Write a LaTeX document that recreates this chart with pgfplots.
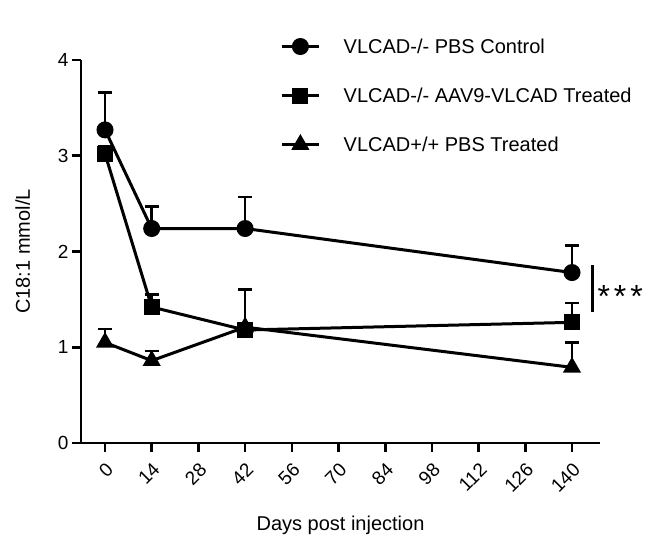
\documentclass[border=0pt]{standalone}
\usepackage{fontspec}
\setmainfont{Liberation Sans}
\usepackage{pgfplots}
\pgfplotsset{compat=1.18}

% err = upper SEM bar
\pgfplotstableread{
day  val   err
0    3.27  0.39
14   2.24  0.23
42   2.24  0.33
140  1.78  0.28
}\ctrl
\pgfplotstableread{
day  val   err
0    3.02  0.08
14   1.42  0.13
42   1.18  0.42
140  1.26  0.20
}\aav
\pgfplotstableread{
day  val   err
0    1.05  0.14
14   0.86  0.10
42   1.21  0.04
140  0.79  0.26
}\wt

\begin{document}
\begin{tikzpicture}
\begin{axis}[
    scale only axis,
    width=519pt, height=383pt,
    xmin=-7.2, xmax=148.4,
    ymin=0, ymax=4,
    axis lines=left,
    axis line style={line width=2.8pt, -},
    xtick={0,14,...,140},
    ytick={0,1,2,3,4},
    tick style={line width=2.6pt, black},
    tick align=outside,
    major tick length=9pt,
    xticklabel style={rotate=45, anchor=north east, inner sep=1pt,
        font=\fontsize{19}{22}\selectfont},
    xticklabel shift=8pt,
    yticklabel style={font=\fontsize{19}{22}\selectfont},
    /pgf/number format/assume math mode=true,
    xlabel={Days post injection},
    ylabel={C18:1 mmol/L},
    label style={font=\fontsize{20}{24}\selectfont},
    xlabel shift=17pt,
    ylabel shift=21pt,
    clip=false,
    mystyle/.style={black, line width=3pt, mark options={solid, fill=black},
        error bars/error bar style={black, line width=2.6pt},
        error bars/error mark options={rotate=90, mark size=7pt, line width=2.6pt, black}},
    error bars/y dir=plus,
    error bars/y explicit,
    legend cell align=left,
    legend style={draw=none, fill=none, at={(0.378,1.067)}, anchor=north west,
        font=\fontsize{20}{24}\selectfont, row sep=29pt},
    legend image code/.code={\draw[mark repeat=2, mark phase=2]
        plot coordinates {(0cm,0cm) (0.65cm,0cm) (1.3cm,0cm)};
        \path (2.05cm,0cm);},
]
\coordinate (sw) at (rel axis cs:0,0);
\coordinate (ne) at (rel axis cs:1,1);

\addplot[mystyle, mark=*, mark size=7pt]
    table[x=day, y=val, y error=err] {\ctrl};
\addlegendentry{VLCAD-/- PBS Control}

\addplot[mystyle, mark=square*, mark size=6.5pt]
    table[x=day, y=val, y error=err] {\aav};
\addlegendentry{VLCAD-/- AAV9-VLCAD Treated}

\addplot[mystyle, mark=triangle*, mark size=7.5pt]
    table[x=day, y=val, y error=err] {\wt};
\addlegendentry{VLCAD+/+ PBS Treated}

% significance marker
\draw[line width=3pt] (axis cs:146,1.86) -- (axis cs:146,1.37);
\node[anchor=west, font=\fontsize{32}{34}\selectfont, inner sep=1pt]
    at (axis cs:147.3,1.53) {*\kern4pt*\kern4pt*};
\end{axis}
\pgfresetboundingbox
\path[use as bounding box] ([shift={(-81pt,-98pt)}]sw) rectangle ([shift={(52pt,60pt)}]ne);
\end{tikzpicture}
\end{document}
